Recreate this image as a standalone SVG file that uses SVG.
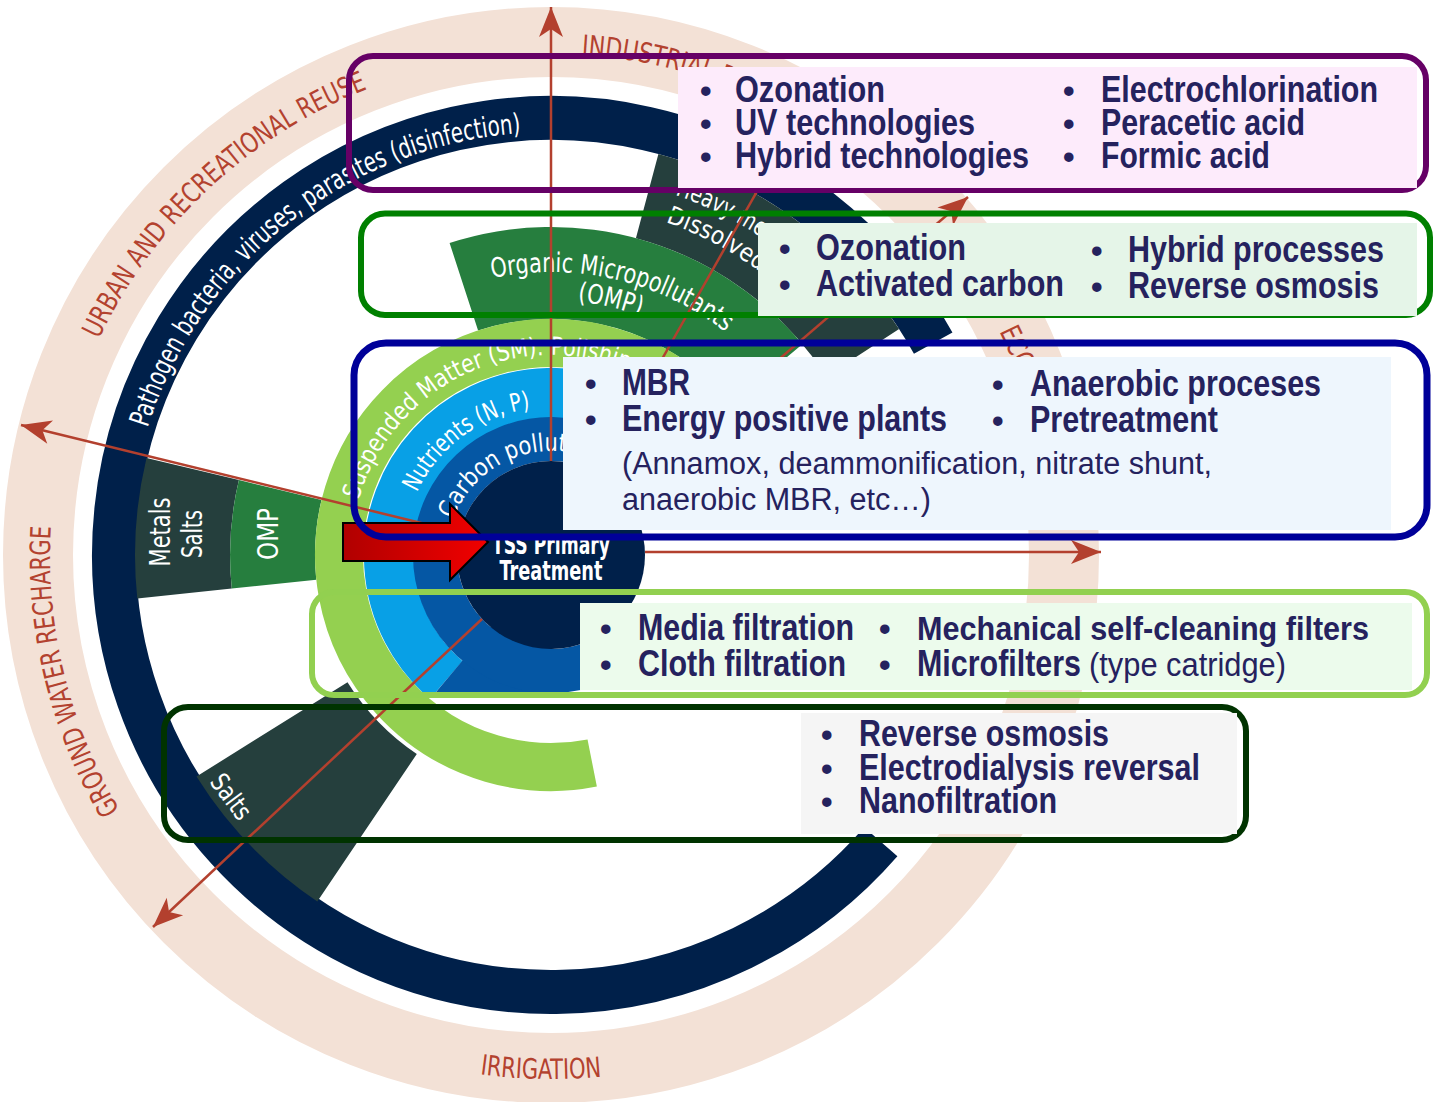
<svg xmlns="http://www.w3.org/2000/svg" width="1435" height="1102" viewBox="0 0 1435 1102">
<defs>
<style>
.bt{font-family:"Liberation Sans Narrow","Liberation Sans",Arial,sans-serif;font-weight:bold;font-size:36px;fill:#25225e}
.rg{font-family:"Liberation Sans Narrow","Liberation Sans",Arial,sans-serif;font-weight:normal;font-size:31px;fill:#25225e}
.bul{font-size:33px}
.use{font-family:"DejaVu Sans Condensed","DejaVu Sans",sans-serif;font-size:28px;fill:#b3422f}
.lab{font-family:"DejaVu Sans Condensed","DejaVu Sans",sans-serif;font-size:24px;fill:#ffffff}
.conn{stroke:#b3402e;stroke-width:2.5;fill:none;marker-end:url(#ah)}
.frame{fill:none;stroke-width:6}
</style>
<marker id="ah" viewBox="-32 -14 34 28" markerWidth="34" markerHeight="28" refX="0" refY="0" orient="auto" markerUnits="userSpaceOnUse">
<path d="M0 0 L-30 -12 L-22 0 L-30 12 Z" fill="#b3402e"/>
</marker>
<linearGradient id="redg" x1="0" y1="0" x2="1" y2="0">
<stop offset="0" stop-color="#b00000"/><stop offset="1" stop-color="#f20000"/>
</linearGradient>
<clipPath id="cutb"><rect x="0" y="0" width="1435" height="692"/></clipPath>
<!-- text baselines -->
<path id="pUrban" d="M98.8 339.3 A501 501 0 0 1 421.3 71.1"/>
<path id="pGround" d="M119.8 810 A501 501 0 0 1 57.6 468"/>
<path id="pIrr" d="M479.9 1074.2 A524 524 0 0 0 642 1071"/>
<path id="pInd" d="M581.6 54.9 A501 501 0 0 1 873 171.2"/>
<path id="pEco" d="M999.3 331.5 A501 501 0 0 1 1051.7 537.5"/>
<path id="pPath" d="M147.6 427.8 A423 423 0 0 1 551 132"/>
<path id="pSM" d="M358.7 499.9 A200 200 0 0 1 704.2 426.4"/>
<path id="pNut" d="M416.9 492.5 A148 148 0 0 1 625 426.8"/>
<path id="pCarb" d="M453.3 519.4 A104 104 0 0 1 603 464.9"/>
<path id="pOrg" d="M492.2 278.2 A283 283 0 0 1 767.8 373.1"/>
<path id="pOmp" d="M577.6 301.4 A255 255 0 0 1 678.5 334.2"/>
<path id="pHeavy" d="M675 194.8 A381 381 0 0 1 842.8 310.1"/>
<path id="pDiss" d="M665.6 222.2 A352 352 0 0 1 839.4 353.1"/>
</defs>

<!-- outer reuse ring -->
<g id="ring-reuse">
<circle cx="551" cy="555" r="513" fill="none" stroke="#f3e1d6" stroke-width="70"/>
<text class="use"><textPath href="#pUrban" textLength="376" lengthAdjust="spacingAndGlyphs">URBAN AND RECREATIONAL REUSE</textPath></text>
<text class="use"><textPath href="#pGround" textLength="296" lengthAdjust="spacingAndGlyphs">GROUND WATER RECHARGE</textPath></text>
<text class="use"><textPath href="#pIrr" textLength="122" lengthAdjust="spacingAndGlyphs">IRRIGATION</textPath></text>
<text class="use"><textPath href="#pInd" textLength="212" lengthAdjust="spacingAndGlyphs">INDUSTRIAL REUSE</textPath></text>
<text class="use"><textPath href="#pEco" textLength="135" lengthAdjust="spacingAndGlyphs">ECOLOGICAL</textPath></text>
</g>

<!-- pathogen ring -->
<g id="ring-pathogen">
<path d="M880.8 841.7 A437 437 0 1 1 933.2 343.1" fill="none" stroke="#00204a" stroke-width="44"/>
<text class="lab" style="font-size:28px"><textPath href="#pPath" textLength="505" lengthAdjust="spacingAndGlyphs">Pathogen  bacteria, viruses, parasites (disinfection)</textPath></text>
</g>

<!-- contaminant wedges -->
<g id="wedge-left">
<path d="M231.8 588.5 L137.3 598.5 A416 416 0 0 1 146.5 457.9 L238.9 480.1 A321 321 0 0 0 231.8 588.5 Z" fill="#253f3d"/>
<path d="M316.3 579.7 L231.8 588.5 A321 321 0 0 1 238.9 480.1 L321.5 499.9 A236 236 0 0 0 316.3 579.7 Z" fill="#267e3e"/>
<text class="lab" style="font-size:28px" text-anchor="middle" transform="translate(170,532) rotate(-90)" textLength="69" lengthAdjust="spacingAndGlyphs">Metals</text>
<text class="lab" style="font-size:28px" text-anchor="middle" transform="translate(202,534) rotate(-90)" textLength="48" lengthAdjust="spacingAndGlyphs">Salts</text>
<text class="lab" style="font-size:28px" text-anchor="middle" transform="translate(278,534) rotate(-90)" textLength="52" lengthAdjust="spacingAndGlyphs">OMP</text>
</g>
<g id="wedge-salts">
<path d="M416.8 754 L317.3 901.5 A418 418 0 0 1 196.5 776.5 L347.5 682.2 A240 240 0 0 0 416.8 754 Z" fill="#253f3d"/>
<text class="lab" style="font-size:26px" text-anchor="middle" transform="translate(224,802) rotate(53)" textLength="50" lengthAdjust="spacingAndGlyphs">Salts</text>
</g>
<g id="wedge-top">
<path d="M635.9 238.2 L658.4 154.1 A415 415 0 0 1 899.1 329 L826.1 376.4 A328 328 0 0 0 635.9 238.2 Z" fill="#253f3d"/>
<path d="M478.1 330.5 L449.6 243 A328 328 0 0 1 802.3 344.2 L731.8 403.3 A236 236 0 0 0 478.1 330.5 Z" fill="#267e3e"/>
<text class="lab" style="font-size:27px"><textPath href="#pOrg" textLength="247" lengthAdjust="spacingAndGlyphs">Organic Micropollutants</textPath></text>
<text class="lab" style="font-size:27px"><textPath href="#pOmp" textLength="64" lengthAdjust="spacingAndGlyphs">(OMP)</textPath></text>
<text class="lab" style="font-size:25px"><textPath href="#pHeavy" textLength="130" lengthAdjust="spacingAndGlyphs">Heavy metals</textPath></text>
<text class="lab" style="font-size:25px"><textPath href="#pDiss" textLength="165" lengthAdjust="spacingAndGlyphs">Dissolved salts</textPath></text>
</g>

<!-- treatment rings -->
<g id="ring-sm">
<path d="M592.2 763 A212 212 0 1 1 700.9 405.1" fill="none" stroke="#94d050" stroke-width="48"/>
<text class="lab" style="font-size:25px"><textPath href="#pSM" textLength="350" lengthAdjust="spacingAndGlyphs">Suspended  Matter (SM): Polishing</textPath></text>
</g>
<g id="ring-nutrients" clip-path="url(#cutb)">
<path d="M446.2 679.9 A163 163 0 1 1 666.3 439.7" fill="none" stroke="#08a0e6" stroke-width="50"/>
<text class="lab" style="font-size:25px"><textPath href="#pNut" textLength="147" lengthAdjust="spacingAndGlyphs">Nutrients (N, P)</textPath></text>
</g>
<g id="ring-carbon" clip-path="url(#cutb)">
<path d="M554.3 648.9 L557.3 734.9 A180 180 0 0 1 435.3 692.9 L490.6 627 Z" fill="#0557a4"/>
<path d="M625.6 643.9 A116 116 0 1 1 633 473" fill="none" stroke="#0557a4" stroke-width="44"/>
<text class="lab" style="font-size:25px"><textPath href="#pCarb" textLength="174" lengthAdjust="spacingAndGlyphs">Carbon pollution</textPath></text>
</g>
<g id="core-tss">
<circle cx="551" cy="555" r="94" fill="#00204a"/>
<text class="lab" style="font-size:26px;font-weight:bold" text-anchor="middle" x="551" y="554" textLength="118" lengthAdjust="spacingAndGlyphs">TSS Primary</text>
<text class="lab" style="font-size:26px;font-weight:bold" text-anchor="middle" x="551" y="580" textLength="103" lengthAdjust="spacingAndGlyphs">Treatment</text>
</g>

<!-- radial reuse arrows -->
<g id="connectors">
<line class="conn" x1="551" y1="461" x2="551" y2="7"/>
<line class="conn" x1="645" y1="552" x2="1101" y2="552"/>
<line class="conn" x1="462" y1="533" x2="21" y2="425"/>
<line class="conn" x1="482" y1="619" x2="153" y2="927"/>
<line class="conn" x1="621" y1="495" x2="968" y2="197"/>
<line class="conn" x1="597" y1="474" x2="820" y2="80"/>
</g>

<!-- inlet arrow -->
<g id="inlet-arrow">
<path d="M343 523 L450 523 L450 504 L488 542 L450 580 L450 561 L343 561 Z" fill="url(#redg)" stroke="#000" stroke-width="2"/>
</g>

<!-- technology boxes -->
<g id="box-disinfection">
<rect class="frame" x="349" y="56" width="1077" height="134" rx="24" stroke="#660066"/>
<rect x="678" y="67" width="739" height="121" fill="#fdebfb"/>
<text class="bt" y="102"><tspan class="bul" x="700">•</tspan><tspan x="735" textLength="150" lengthAdjust="spacingAndGlyphs">Ozonation</tspan></text>
<text class="bt" y="135"><tspan class="bul" x="700">•</tspan><tspan x="735" textLength="240" lengthAdjust="spacingAndGlyphs">UV technologies</tspan></text>
<text class="bt" y="168"><tspan class="bul" x="700">•</tspan><tspan x="735" textLength="294" lengthAdjust="spacingAndGlyphs">Hybrid technologies</tspan></text>
<text class="bt" y="102"><tspan class="bul" x="1063">•</tspan><tspan x="1101" textLength="277" lengthAdjust="spacingAndGlyphs">Electrochlorination</tspan></text>
<text class="bt" y="135"><tspan class="bul" x="1063">•</tspan><tspan x="1101" textLength="204" lengthAdjust="spacingAndGlyphs">Peracetic acid</tspan></text>
<text class="bt" y="168"><tspan class="bul" x="1063">•</tspan><tspan x="1101" textLength="169" lengthAdjust="spacingAndGlyphs">Formic acid</tspan></text>
</g>

<g id="box-micropollutants">
<rect class="frame" x="361" y="213.5" width="1069" height="101.5" rx="24" stroke="#008000"/>
<rect x="758" y="223" width="659" height="93" fill="#e5f5e8"/>
<text class="bt" y="260"><tspan class="bul" x="779">•</tspan><tspan x="816" textLength="150" lengthAdjust="spacingAndGlyphs">Ozonation</tspan></text>
<text class="bt" y="296"><tspan class="bul" x="779">•</tspan><tspan x="816" textLength="248" lengthAdjust="spacingAndGlyphs">Activated carbon</tspan></text>
<text class="bt" y="262"><tspan class="bul" x="1091">•</tspan><tspan x="1128" textLength="256" lengthAdjust="spacingAndGlyphs">Hybrid processes</tspan></text>
<text class="bt" y="298"><tspan class="bul" x="1091">•</tspan><tspan x="1128" textLength="251" lengthAdjust="spacingAndGlyphs">Reverse osmosis</tspan></text>
</g>

<g id="box-biological">
<rect x="354" y="343" width="1073" height="194" rx="32" fill="none" stroke="#000099" stroke-width="7"/>
<rect x="563" y="357" width="828" height="173" fill="#eef6fd"/>
<text class="bt" y="395"><tspan class="bul" x="585">•</tspan><tspan x="622" textLength="68" lengthAdjust="spacingAndGlyphs">MBR</tspan></text>
<text class="bt" y="431"><tspan class="bul" x="585">•</tspan><tspan x="622" textLength="325" lengthAdjust="spacingAndGlyphs">Energy positive plants</tspan></text>
<text class="bt" y="396"><tspan class="bul" x="992">•</tspan><tspan x="1030" textLength="291" lengthAdjust="spacingAndGlyphs">Anaerobic proceses</tspan></text>
<text class="bt" y="432"><tspan class="bul" x="992">•</tspan><tspan x="1030" textLength="188" lengthAdjust="spacingAndGlyphs">Pretreatment</tspan></text>
<text class="rg" x="622" y="474" textLength="590" lengthAdjust="spacingAndGlyphs">(Annamox, deammonification, nitrate shunt,</text>
<text class="rg" x="622" y="510" textLength="309" lengthAdjust="spacingAndGlyphs">anaerobic MBR, etc…)</text>
</g>

<g id="box-filtration">
<rect class="frame" x="312" y="592" width="1115" height="103" rx="22" stroke="#92d050"/>
<rect x="580" y="603" width="832" height="87" fill="#ecfbec"/>
<text class="bt" y="640"><tspan class="bul" x="600">•</tspan><tspan x="638" textLength="216" lengthAdjust="spacingAndGlyphs">Media filtration</tspan></text>
<text class="bt" y="676"><tspan class="bul" x="600">•</tspan><tspan x="638" textLength="208" lengthAdjust="spacingAndGlyphs">Cloth filtration</tspan></text>
<text class="bt" y="640" style="font-size:34px"><tspan class="bul" x="879">•</tspan><tspan x="917" textLength="452" lengthAdjust="spacingAndGlyphs">Mechanical self-cleaning filters</tspan></text>
<text class="bt" y="676"><tspan class="bul" x="879">•</tspan><tspan x="917" textLength="164" lengthAdjust="spacingAndGlyphs">Microfilters</tspan><tspan class="rg" style="font-size:33px" x="1089" textLength="197" lengthAdjust="spacingAndGlyphs">(type catridge)</tspan></text>
</g>

<g id="box-salts">
<rect class="frame" x="164" y="707" width="1082" height="133" rx="24" stroke="#003300"/>
<rect x="801" y="713" width="436" height="121" fill="#f5f5f5"/>
<text class="bt" y="746"><tspan class="bul" x="821">•</tspan><tspan x="859" textLength="250" lengthAdjust="spacingAndGlyphs">Reverse osmosis</tspan></text>
<text class="bt" y="780"><tspan class="bul" x="821">•</tspan><tspan x="859" textLength="341" lengthAdjust="spacingAndGlyphs">Electrodialysis reversal</tspan></text>
<text class="bt" y="813"><tspan class="bul" x="821">•</tspan><tspan x="859" textLength="198" lengthAdjust="spacingAndGlyphs">Nanofiltration</tspan></text>
</g>
</svg>
